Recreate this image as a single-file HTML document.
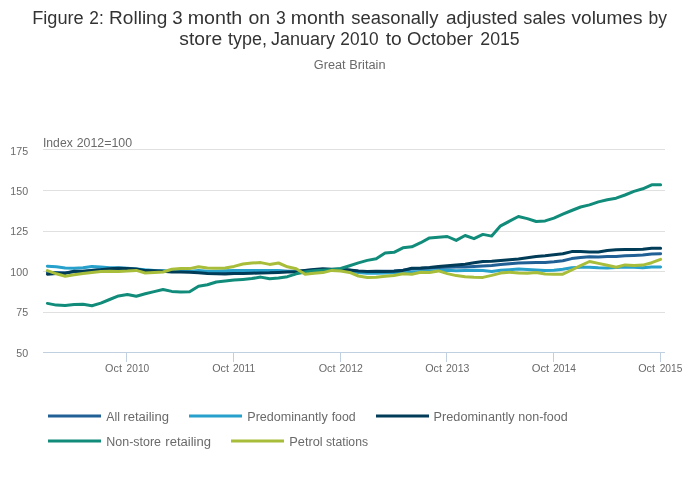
<!DOCTYPE html>
<html><head><meta charset="utf-8"><title>Figure 2</title>
<style>
html,body{margin:0;padding:0;background:#fff}
svg{display:block;font-family:"Liberation Sans",sans-serif}
.t{font-size:18px;fill:#333}
.s{font-size:12px;fill:#6a6a6a}
.a{font-size:11px;fill:#6a6a6a}
.l{font-size:12px;fill:#6a6a6a}
</style></head><body>
<svg width="700" height="502" viewBox="0 0 700 502">
<rect width="700" height="502" fill="#fff"/>
<g class="t"><text x="32.2" y="24" textLength="51.5" lengthAdjust="spacingAndGlyphs">Figure </text><text x="89.3" y="24" textLength="14.4" lengthAdjust="spacingAndGlyphs">2: </text><text x="109.1" y="24" textLength="58.2" lengthAdjust="spacingAndGlyphs">Rolling </text><text x="172.3" y="24" textLength="10.4" lengthAdjust="spacingAndGlyphs">3 </text><text x="187.7" y="24" textLength="54.6" lengthAdjust="spacingAndGlyphs">month </text><text x="248.4" y="24" textLength="21.8" lengthAdjust="spacingAndGlyphs">on </text><text x="275.9" y="24" textLength="9.8" lengthAdjust="spacingAndGlyphs">3 </text><text x="290.7" y="24" textLength="54.1" lengthAdjust="spacingAndGlyphs">month </text><text x="351.3" y="24" textLength="87.1" lengthAdjust="spacingAndGlyphs">seasonally </text><text x="445.9" y="24" textLength="71.8" lengthAdjust="spacingAndGlyphs">adjusted </text><text x="523.3" y="24" textLength="42.4" lengthAdjust="spacingAndGlyphs">sales </text><text x="571.5" y="24" textLength="71.0" lengthAdjust="spacingAndGlyphs">volumes </text><text x="648.5" y="24" textLength="18.5" lengthAdjust="spacingAndGlyphs">by </text><text x="179.3" y="45" textLength="42.8" lengthAdjust="spacingAndGlyphs">store </text><text x="228.0" y="45" textLength="38.9" lengthAdjust="spacingAndGlyphs">type, </text><text x="270.9" y="45" textLength="64.1" lengthAdjust="spacingAndGlyphs">January </text><text x="340.3" y="45" textLength="38.4" lengthAdjust="spacingAndGlyphs">2010 </text><text x="385.7" y="45" textLength="16.0" lengthAdjust="spacingAndGlyphs">to </text><text x="407.1" y="45" textLength="65.8" lengthAdjust="spacingAndGlyphs">October </text><text x="480.3" y="45" textLength="39.4" lengthAdjust="spacingAndGlyphs">2015 </text></g>
<g class="s"><text x="313.8" y="69" textLength="31.8" lengthAdjust="spacingAndGlyphs">Great </text><text x="349.3" y="69" textLength="36.2" lengthAdjust="spacingAndGlyphs">Britain </text><text x="43.0" y="146.6" textLength="29.7" lengthAdjust="spacingAndGlyphs">Index </text><text x="76.7" y="146.6" textLength="55.4" lengthAdjust="spacingAndGlyphs">2012=100 </text></g>
<path d="M43 149.5H665" stroke="#e0e0e0" stroke-width="1"/><path d="M43 190.5H665" stroke="#e0e0e0" stroke-width="1"/><path d="M43 231.5H665" stroke="#e0e0e0" stroke-width="1"/><path d="M43 271.5H665" stroke="#e0e0e0" stroke-width="1"/><path d="M43 312.5H665" stroke="#e0e0e0" stroke-width="1"/>
<path d="M43 352.5H665" stroke="#c0d0e0" stroke-width="1"/>
<path d="M126.5 353V362" stroke="#c0d0e0" stroke-width="1"/><path d="M233.5 353V362" stroke="#c0d0e0" stroke-width="1"/><path d="M340.5 353V362" stroke="#c0d0e0" stroke-width="1"/><path d="M446.5 353V362" stroke="#c0d0e0" stroke-width="1"/><path d="M553.5 353V362" stroke="#c0d0e0" stroke-width="1"/><path d="M660.5 353V362" stroke="#c0d0e0" stroke-width="1"/>
<g class="a"><text x="10.3" y="155" textLength="17.8" lengthAdjust="spacingAndGlyphs">175</text><text x="10.3" y="195" textLength="17.8" lengthAdjust="spacingAndGlyphs">150</text><text x="10.3" y="235" textLength="17.8" lengthAdjust="spacingAndGlyphs">125</text><text x="10.3" y="276" textLength="17.8" lengthAdjust="spacingAndGlyphs">100</text><text x="16.2" y="316" textLength="11.9" lengthAdjust="spacingAndGlyphs">75</text><text x="16.2" y="357" textLength="11.9" lengthAdjust="spacingAndGlyphs">50</text><text x="105.1" y="372" textLength="16.8" lengthAdjust="spacingAndGlyphs">Oct </text><text x="126.6" y="372" textLength="22.7" lengthAdjust="spacingAndGlyphs">2010 </text><text x="212.2" y="372" textLength="16.8" lengthAdjust="spacingAndGlyphs">Oct </text><text x="233.1" y="372" textLength="22.2" lengthAdjust="spacingAndGlyphs">2011 </text><text x="318.7" y="372" textLength="16.8" lengthAdjust="spacingAndGlyphs">Oct </text><text x="339.5" y="372" textLength="23.4" lengthAdjust="spacingAndGlyphs">2012 </text><text x="425.2" y="372" textLength="16.8" lengthAdjust="spacingAndGlyphs">Oct </text><text x="446.0" y="372" textLength="23.4" lengthAdjust="spacingAndGlyphs">2013 </text><text x="531.7" y="372" textLength="17.5" lengthAdjust="spacingAndGlyphs">Oct </text><text x="553.2" y="372" textLength="22.7" lengthAdjust="spacingAndGlyphs">2014 </text><text x="638.2" y="372" textLength="16.8" lengthAdjust="spacingAndGlyphs">Oct </text><text x="659.7" y="372" textLength="22.7" lengthAdjust="spacingAndGlyphs">2015 </text></g>
<polyline points="47.4,272.6 56.3,272.6 65.2,272.8 74.1,271.8 83.0,271.4 91.9,270.6 100.8,269.6 109.6,269.2 118.5,269.0 127.4,269.2 136.3,269.4 145.2,270.8 154.1,270.9 163.0,271.2 171.8,271.5 180.7,271.5 189.6,271.6 198.5,271.4 207.4,272.0 216.3,272.1 225.2,272.0 234.0,271.8 242.9,271.7 251.8,271.6 260.7,271.4 269.6,271.4 278.5,271.2 287.4,271.2 296.2,271.2 305.1,270.6 314.0,270.0 322.9,269.6 331.8,269.6 340.7,269.6 349.6,270.2 358.4,271.2 367.3,271.6 376.2,271.4 385.1,271.2 394.0,271.0 402.9,270.2 411.8,269.0 420.7,268.6 429.5,268.2 438.4,267.6 447.3,267.3 456.2,267.1 465.1,266.9 474.0,266.4 482.9,265.9 491.7,265.4 500.6,264.6 509.5,263.8 518.4,263.1 527.3,262.7 536.2,262.4 545.1,262.4 553.9,261.8 562.8,260.8 571.7,258.6 580.6,257.5 589.5,256.8 598.4,256.9 607.3,256.6 616.1,256.4 625.0,255.7 633.9,255.4 642.8,255.1 651.7,254.0 660.6,253.7" fill="none" stroke="#206095" stroke-width="3" stroke-linejoin="round" stroke-linecap="round"/>
<polyline points="47.4,266.2 56.3,266.8 65.2,268.0 74.1,268.2 83.0,267.8 91.9,266.4 100.8,267.0 109.6,267.8 118.5,267.8 127.4,268.2 136.3,269.0 145.2,269.8 154.1,270.4 163.0,270.8 171.8,271.2 180.7,271.6 189.6,271.6 198.5,270.4 207.4,271.3 216.3,271.2 225.2,270.8 234.0,270.6 242.9,270.6 251.8,270.6 260.7,270.6 269.6,270.4 278.5,270.4 287.4,271.6 296.2,271.8 305.1,271.0 314.0,270.2 322.9,270.0 331.8,270.0 340.7,270.0 349.6,271.0 358.4,272.5 367.3,273.2 376.2,273.2 385.1,273.0 394.0,272.8 402.9,272.4 411.8,272.0 420.7,271.4 429.5,271.0 438.4,270.6 447.3,270.3 456.2,270.8 465.1,270.4 474.0,270.3 482.9,270.6 491.7,271.4 500.6,270.3 509.5,269.7 518.4,269.1 527.3,269.5 536.2,270.0 545.1,270.6 553.9,270.2 562.8,269.2 571.7,267.8 580.6,267.3 589.5,267.3 598.4,267.8 607.3,268.0 616.1,267.6 625.0,267.1 633.9,267.3 642.8,267.8 651.7,266.9 660.6,267.0" fill="none" stroke="#27a0cc" stroke-width="3" stroke-linejoin="round" stroke-linecap="round"/>
<polyline points="47.4,274.2 56.3,273.5 65.2,273.4 74.1,271.2 83.0,271.2 91.9,270.4 100.8,269.8 109.6,268.8 118.5,268.3 127.4,268.4 136.3,268.9 145.2,270.6 154.1,270.8 163.0,271.2 171.8,272.0 180.7,272.0 189.6,272.2 198.5,272.8 207.4,273.5 216.3,273.8 225.2,274.0 234.0,273.6 242.9,273.4 251.8,273.2 260.7,273.0 269.6,272.8 278.5,272.4 287.4,272.0 296.2,271.8 305.1,270.4 314.0,269.4 322.9,268.8 331.8,269.2 340.7,269.2 349.6,270.0 358.4,271.0 367.3,271.4 376.2,271.2 385.1,271.6 394.0,271.2 402.9,270.4 411.8,268.2 420.7,268.0 429.5,267.6 438.4,266.6 447.3,265.7 456.2,265.0 465.1,264.2 474.0,262.8 482.9,261.4 491.7,261.2 500.6,260.5 509.5,259.7 518.4,258.9 527.3,257.8 536.2,256.6 545.1,255.8 553.9,254.8 562.8,253.7 571.7,251.6 580.6,251.5 589.5,252.0 598.4,251.9 607.3,250.5 616.1,249.8 625.0,249.4 633.9,249.4 642.8,249.3 651.7,248.3 660.6,248.3" fill="none" stroke="#003c57" stroke-width="3" stroke-linejoin="round" stroke-linecap="round"/>
<polyline points="47.4,303.4 56.3,305.1 65.2,305.5 74.1,304.5 83.0,304.2 91.9,305.7 100.8,303.1 109.6,299.5 118.5,295.9 127.4,294.5 136.3,296.3 145.2,293.8 154.1,291.6 163.0,289.5 171.8,291.4 180.7,292.1 189.6,291.8 198.5,286.2 207.4,284.8 216.3,282.0 225.2,281.1 234.0,280.1 242.9,279.4 251.8,278.6 260.7,277.1 269.6,278.8 278.5,278.0 287.4,276.7 296.2,273.8 305.1,272.0 314.0,270.8 322.9,270.2 331.8,269.6 340.7,268.5 349.6,265.7 358.4,262.9 367.3,260.4 376.2,258.7 385.1,253.0 394.0,252.3 402.9,247.8 411.8,246.8 420.7,242.7 429.5,237.9 438.4,237.2 447.3,236.5 456.2,240.4 465.1,235.5 474.0,238.7 482.9,234.4 491.7,236.1 500.6,225.8 509.5,221.2 518.4,216.5 527.3,218.6 536.2,221.5 545.1,220.9 553.9,218.1 562.8,214.2 571.7,210.5 580.6,207.0 589.5,204.9 598.4,201.9 607.3,199.7 616.1,198.2 625.0,195.0 633.9,191.4 642.8,188.8 651.7,184.8 660.6,184.8" fill="none" stroke="#118c7b" stroke-width="3" stroke-linejoin="round" stroke-linecap="round"/>
<polyline points="47.4,270.6 56.3,273.8 65.2,276.2 74.1,274.8 83.0,273.6 91.9,272.4 100.8,271.6 109.6,271.2 118.5,271.4 127.4,271.0 136.3,270.4 145.2,273.0 154.1,272.4 163.0,272.0 171.8,269.2 180.7,268.6 189.6,268.6 198.5,266.8 207.4,267.9 216.3,268.2 225.2,268.0 234.0,266.4 242.9,264.0 251.8,263.0 260.7,262.6 269.6,264.4 278.5,263.0 287.4,266.8 296.2,268.8 305.1,274.2 314.0,273.2 322.9,272.6 331.8,270.4 340.7,271.0 349.6,272.4 358.4,276.0 367.3,277.4 376.2,277.2 385.1,276.2 394.0,275.4 402.9,273.8 411.8,274.2 420.7,272.2 429.5,272.4 438.4,270.9 447.3,273.6 456.2,275.6 465.1,276.7 474.0,277.3 482.9,277.4 491.7,275.4 500.6,273.1 509.5,272.2 518.4,273.1 527.3,273.3 536.2,272.6 545.1,274.0 553.9,274.3 562.8,274.2 571.7,270.0 580.6,265.6 589.5,261.5 598.4,263.4 607.3,265.2 616.1,267.3 625.0,264.9 633.9,265.6 642.8,265.1 651.7,262.7 660.6,259.4" fill="none" stroke="#a8bd3a" stroke-width="3" stroke-linejoin="round" stroke-linecap="round"/>
<g class="l"><path d="M48 416H101" stroke="#206095" stroke-width="3"/><path d="M189 416H242" stroke="#27a0cc" stroke-width="3"/><path d="M376 416H429" stroke="#003c57" stroke-width="3"/><path d="M48 441H101" stroke="#118c7b" stroke-width="3"/><path d="M231 441H284" stroke="#a8bd3a" stroke-width="3"/><text x="106.2" y="420.8" textLength="13.7" lengthAdjust="spacingAndGlyphs">All </text><text x="123.3" y="420.8" textLength="45.7" lengthAdjust="spacingAndGlyphs">retailing </text><text x="247.3" y="420.8" textLength="80.4" lengthAdjust="spacingAndGlyphs">Predominantly </text><text x="331.7" y="420.8" textLength="24.0" lengthAdjust="spacingAndGlyphs">food </text><text x="433.6" y="420.8" textLength="81.1" lengthAdjust="spacingAndGlyphs">Predominantly </text><text x="518.3" y="420.8" textLength="49.4" lengthAdjust="spacingAndGlyphs">non-food </text><text x="106.3" y="445.7" textLength="54.7" lengthAdjust="spacingAndGlyphs">Non-store </text><text x="165.3" y="445.7" textLength="45.7" lengthAdjust="spacingAndGlyphs">retailing </text><text x="289.3" y="445.7" textLength="33.4" lengthAdjust="spacingAndGlyphs">Petrol </text><text x="326.0" y="445.7" textLength="42.0" lengthAdjust="spacingAndGlyphs">stations </text></g>
</svg>
</body></html>
